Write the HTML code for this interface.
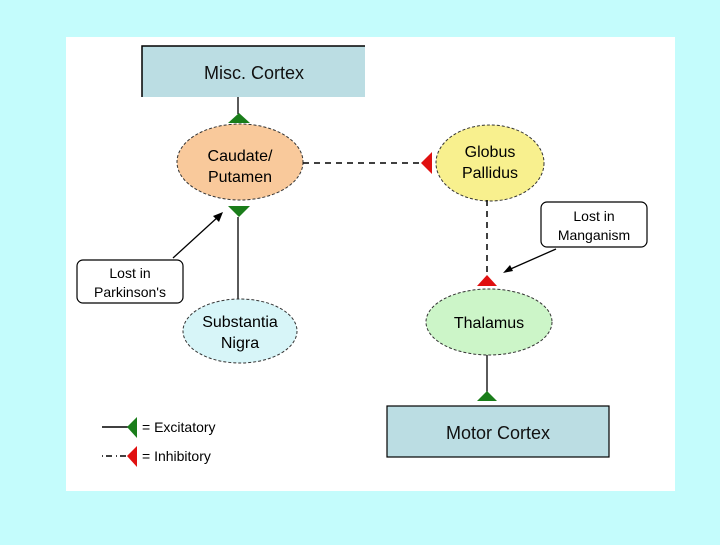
<!DOCTYPE html>
<html><head><style>
body{margin:0;width:720px;height:540px;background:#c4fcfc;font-family:"Liberation Sans",sans-serif;overflow:hidden}
</style></head><body>
<svg width="720" height="540" xmlns="http://www.w3.org/2000/svg" font-family="Liberation Sans, sans-serif">
<rect x="66" y="37" width="609" height="454" fill="#fff"/>
<rect x="142" y="46" width="223" height="51" fill="#bbdde3"/>
<path d="M142 97 V46 H365" stroke="#000" stroke-width="1.5" fill="none"/>
<text x="254" y="79" font-size="18" text-anchor="middle" fill="#111">Misc. Cortex</text>
<line x1="238" y1="97" x2="238" y2="114" stroke="#000" stroke-width="1.3"/>
<polygon points="228,123 250,123 239,113" fill="#1a7d1a"/>
<ellipse cx="240" cy="162" rx="63" ry="38" fill="#f9c99b" stroke="#333" stroke-dasharray="3,2"/>
<text x="240" y="161" font-size="16" text-anchor="middle">Caudate/</text>
<text x="240" y="182" font-size="16" text-anchor="middle">Putamen</text>
<polygon points="228,206 250,206 239,217" fill="#1a7d1a"/>
<line x1="238" y1="217" x2="238" y2="299" stroke="#000" stroke-width="1.3"/>
<line x1="303" y1="163" x2="422" y2="163" stroke="#000" stroke-width="1.5" stroke-dasharray="6,5"/>
<polygon points="432,152 432,174 421,163" fill="#e01010"/>
<ellipse cx="490" cy="163" rx="54" ry="38" fill="#f8f08e" stroke="#333" stroke-dasharray="3,2"/>
<text x="490" y="157" font-size="16" text-anchor="middle">Globus</text>
<text x="490" y="178" font-size="16" text-anchor="middle">Pallidus</text>
<line x1="487" y1="200" x2="487" y2="276" stroke="#000" stroke-width="1.5" stroke-dasharray="6,5"/>
<polygon points="477,286 497,286 487,275" fill="#e01010"/>
<rect x="541" y="202" width="106" height="45" rx="6" fill="#fff" stroke="#000" stroke-width="1.2"/>
<text x="594" y="221" font-size="14" text-anchor="middle">Lost in</text>
<text x="594" y="240" font-size="14" text-anchor="middle">Manganism</text>
<line x1="556" y1="249" x2="506" y2="271" stroke="#000" stroke-width="1.3"/>
<polygon points="503,273 510,265 513,271" fill="#000"/>
<ellipse cx="489" cy="322" rx="63" ry="33" fill="#ccf5c8" stroke="#333" stroke-dasharray="3,2"/>
<text x="489" y="328" font-size="16" text-anchor="middle">Thalamus</text>
<line x1="487" y1="355" x2="487" y2="394" stroke="#000" stroke-width="1.3"/>
<polygon points="477,401 497,401 487,391" fill="#1a7d1a"/>
<rect x="387" y="406" width="222" height="51" fill="#bbdde3" stroke="#000" stroke-width="1.2"/>
<text x="498" y="439" font-size="18" text-anchor="middle" fill="#111">Motor Cortex</text>
<rect x="77" y="260" width="106" height="43" rx="6" fill="#fff" stroke="#000" stroke-width="1.2"/>
<text x="130" y="278" font-size="14" text-anchor="middle">Lost in</text>
<text x="130" y="297" font-size="14" text-anchor="middle">Parkinson's</text>
<line x1="173" y1="258" x2="219" y2="216" stroke="#000" stroke-width="1.3"/>
<polygon points="223,212 219,222 213,216" fill="#000"/>
<ellipse cx="240" cy="331" rx="57" ry="32" fill="#d7f5f8" stroke="#333" stroke-dasharray="3,2"/>
<text x="240" y="327" font-size="16" text-anchor="middle">Substantia</text>
<text x="240" y="348" font-size="16" text-anchor="middle">Nigra</text>
<line x1="102" y1="427" x2="130" y2="427" stroke="#000" stroke-width="1.5"/>
<polygon points="137,417 137,438 127,427" fill="#1a7d1a"/>
<text x="142" y="432" font-size="14">= Excitatory</text>
<line x1="102" y1="456" x2="128" y2="456" stroke="#000" stroke-width="1.5" stroke-dasharray="1,3,6,4"/>
<polygon points="137,446 137,467 127,456" fill="#e01010"/>
<text x="142" y="461" font-size="14">= Inhibitory</text>
</svg>
</body></html>
